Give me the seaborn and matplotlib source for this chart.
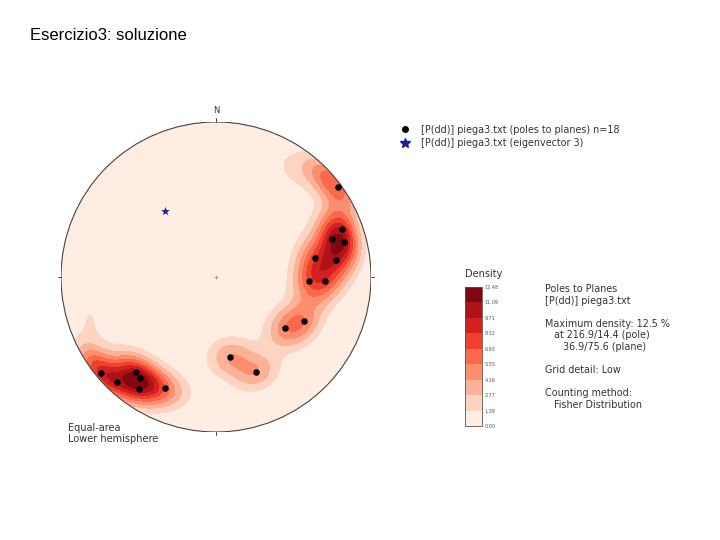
import numpy as np
import pandas as pd
import matplotlib
matplotlib.use("Agg")
import matplotlib.pyplot as plt
import seaborn as sns

# poles to planes (trend / plunge, degrees)
pole_trend = [53.6, 69.1, 71.9, 74.7, 79.1, 81.9, 92.5, 92.1, 116.6, 126.5,
              170.0, 157.2, 230.1, 223.3, 220.1, 217.0, 214.5, 204.7]
pole_plunge = [2.5, 14.1, 22.4, 15.5, 35.3, 22.9, 39.8, 30.3, 36.6, 43.9,
               46.5, 33.9, 3.8, 7.7, 21.0, 19.5, 13.4, 22.3]
eig3_trend = [322.3]
eig3_plunge = [45.3]

max_density = 12.48
n_levels = 10
kappa = 55.0
wrap_scale = 8.0  # how fast the wrap-around across the primitive fades with plunge

legend_poles = "[P(dd)] piega3.txt (poles to planes) n=18"
legend_eig = "[P(dd)] piega3.txt (eigenvector 3)"
info_lines = ["Poles to Planes", "[P(dd)] piega3.txt", "",
              "Maximum density: 12.5 %", "   at 216.9/14.4 (pole)",
              "      36.9/75.6 (plane)", "", "Grid detail: Low", "",
              "Counting method:", "   Fisher Distribution"]


def project(trend, plunge):
    tr = np.radians(np.asarray(trend))
    colat = np.radians(90 - np.asarray(plunge))
    r = np.sqrt(2) * np.sin(colat / 2)
    return r * np.sin(tr), r * np.cos(tr)


def vectors(trend, plunge):
    tr = np.radians(np.asarray(trend))
    pl = np.radians(np.asarray(plunge))
    return np.stack([np.cos(pl) * np.cos(tr), np.cos(pl) * np.sin(tr), np.sin(pl)], axis=-1)


# density grid (Fisher kernel + faded wrap-around of the opposite side)
g = np.linspace(-1.02, 1.02, 401)
X, Y = np.meshgrid(g, g)
R = np.clip(np.hypot(X, Y), 0, 1)
gtrend = np.degrees(np.arctan2(X, Y))
gplunge = 90 - np.degrees(2 * np.arcsin(R / np.sqrt(2)))
gv = vectors(gtrend, gplunge)
pv = vectors(pole_trend, pole_plunge)
mv = vectors(np.asarray(pole_trend) + 180, pole_plunge)
wrap_w = np.exp(-np.asarray(pole_plunge) / wrap_scale)
dens = np.exp(kappa * (np.tensordot(gv, pv, axes=([2], [1])) - 1)).sum(axis=2)
dens += (wrap_w * np.exp(kappa * (np.tensordot(gv, mv, axes=([2], [1])) - 1))).sum(axis=2)
dens = dens / dens.max() * max_density

sns.set_theme(style="white")
plt.rcParams["font.family"] = ["DejaVu Sans"]

fig = plt.figure(figsize=(7.2, 5.4), dpi=100)
ax = fig.add_axes([61 / 720, 1 - 432 / 540, 310 / 720, 310 / 540])
ax.set_xlim(-1, 1)
ax.set_ylim(-1, 1)
ax.set_aspect("equal")
ax.axis("off")

levels = np.linspace(0, max_density, n_levels)
cf = ax.contourf(X, Y, dens, levels=levels, cmap="Reds")
circle = plt.Circle((0, 0), 1, transform=ax.transData, fill=False,
                    edgecolor="#444444", linewidth=0.8, zorder=5)
ax.add_patch(circle)
cf.set_clip_path(circle)

px, py = project(pole_trend, pole_plunge)
ex, ey = project(eig3_trend, eig3_plunge)
df = pd.DataFrame({"x": px, "y": py})
sns.scatterplot(data=df, x="x", y="y", ax=ax, color="black", s=22,
                linewidth=0, zorder=6, legend=False)
ax.scatter(ex, ey, marker="*", s=45, color="#1c1ca0", linewidth=0, zorder=6)

for tx, ty, dx, dy in [(0, 1, 0, 0.025), (1, 0, 0.02, 0), (0, -1, 0, -0.02), (-1, 0, -0.02, 0)]:
    ax.plot([tx, tx + dx], [ty, ty + dy], color="#444444", lw=0.7, clip_on=False)
ax.text(0, 1.045, "N", ha="center", va="bottom", fontsize=6, color="#333333")
ax.plot([0], [0], marker="+", color="#888888", markersize=3, mew=0.5)
fig.text(68 / 720, 1 - 423 / 540, "Equal-area\nLower hemisphere", ha="left", va="top",
         fontsize=7, color="#333333", linespacing=1.1)

handles = [
    plt.Line2D([], [], ls="none", marker="o", color="black", markersize=4),
    plt.Line2D([], [], ls="none", marker="*", color="#1c1ca0", markersize=7),
]
fig.legend(handles, [legend_poles, legend_eig], loc="upper left",
           bbox_to_anchor=(392 / 720, 1 - 121 / 540), frameon=False,
           fontsize=6.9, handletextpad=0.6, labelspacing=0.35,
           labelcolor="#333333", borderaxespad=0)

cax = fig.add_axes([465 / 720, 1 - 426 / 540, 17 / 720, 139 / 540])
cb = fig.colorbar(cf, cax=cax, ticks=levels)
cb.ax.set_yticklabels([f"{v:.2f}" for v in levels], fontsize=3.5, color="#555555")
cb.ax.tick_params(length=0, pad=2)
cb.outline.set_linewidth(0.6)
cb.outline.set_edgecolor("#555555")
fig.text(484 / 720, 1 - 274 / 540, "Density", ha="center", va="center",
         fontsize=7, color="#333333")

fig.text(545 / 720, 1 - 284 / 540, "\n".join(info_lines), ha="left", va="top",
         fontsize=6.9, color="#333333", linespacing=1.2)

fig.text(30 / 720, 1 - 36 / 540, "Esercizio3: soluzione", ha="left", va="center",
         fontsize=12, family=["Liberation Sans", "DejaVu Sans"], color="black")

fig.savefig("out.png", dpi=100)
